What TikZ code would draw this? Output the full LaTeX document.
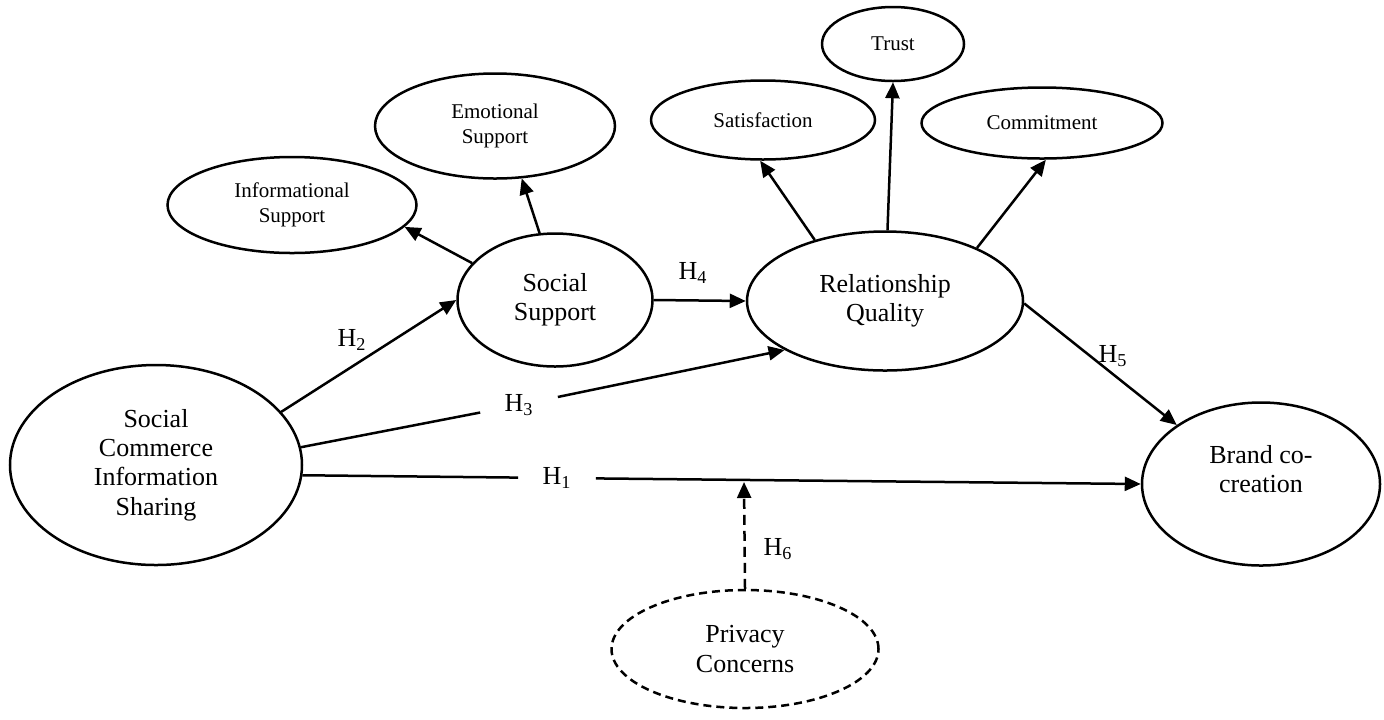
\documentclass[tikz,border=0pt]{standalone}
\usepackage{fontspec}
\setmainfont{Liberation Serif}
\usepackage{tikz}
\usetikzlibrary{shapes.geometric, arrows.meta}

\begin{document}
\begin{tikzpicture}[
    x=0.5pt, y=-0.5pt,
    construct/.style={draw, ellipse, line width=1.25pt, inner sep=0pt, align=center, font=\fontsize{13}{14.6}\selectfont},
    dimension/.style={draw, ellipse, line width=1.25pt, inner sep=0pt, align=center, font=\fontsize{10.5}{12.5}\selectfont},
    hyp/.style={inner sep=1pt, font=\fontsize{13}{15}\selectfont},
    gaphyp/.style={hyp, inner xsep=12pt},
    link/.style={line width=1.25pt, -{Triangle[length=8pt, width=7pt]}},
    modlink/.style={link, dash pattern=on 5pt off 3pt},
]
    \useasboundingbox (0,0) rectangle (1384,719);

    % Constructs
    \node[construct, minimum width=146pt, minimum height=100pt] (scis) at (156,465) {Social\\Commerce\\Information\\Sharing};
    \node[construct, minimum width=97.5pt, minimum height=66.5pt] (ss) at (555,300) {Social\\Support};
    \node[construct, minimum width=138pt, minimum height=69.5pt] (rq) at (885,301) {Relationship\\Quality};
    \node[construct, minimum width=119pt, minimum height=81.5pt,
          label={[yshift=7.5pt, align=center, font=\fontsize{13}{14.6}\selectfont]center:{Brand co-\\creation}}] (brand) at (1261,484) {};
    \node[construct, dash pattern=on 4pt off 2.5pt, minimum width=133.5pt, minimum height=59pt] (pc) at (745,649) {Privacy\\Concerns};

    % Dimensions
    \node[dimension, minimum width=124.5pt, minimum height=48pt] (info) at (292,205) {Informational\\Support};
    \node[dimension, minimum width=120pt, minimum height=52.5pt] (emo) at (495,126) {Emotional\\Support};
    \node[dimension, minimum width=112pt, minimum height=39.5pt] (sat) at (763,120) {Satisfaction};
    \node[dimension, minimum width=71pt, minimum height=37pt] (trust) at (893,44) {Trust};
    \node[dimension, minimum width=120.5pt, minimum height=35.5pt] (commit) at (1042,123) {Commitment};

    % Hypothesis labels
    \node[gaphyp] (h1) at (557,478) {H\textsubscript{1}};
    \node[hyp] (h2) at (352,340) {H\textsubscript{2}};
    \node[gaphyp] (h3) at (519,405) {H\textsubscript{3}};
    \node[hyp] (h4) at (693,273) {H\textsubscript{4}};
    \node[hyp] (h5) at (1113,356) {H\textsubscript{5}};
    \node[hyp] (h6) at (778,549) {H\textsubscript{6}};
    \coordinate (mod) at (744,482);

    % Structural paths
    \draw[link] (scis.-4) -- (h1) -- (brand.west);
    \draw[link] (scis.23) -- (ss.west);
    \draw[link] (scis.7) -- (h3) -- (rq.206);
    \draw[link] (ss.east) -- (rq.west);
    \draw[link] (rq.-1) -- (brand.145);
    \draw[modlink] (pc.north) -- (mod);

    % Dimension paths
    \draw[link] (ss.156) -- (info.-11);
    \draw[link] (ss.103) -- (emo.-63);
    \draw[link] (rq.139) -- (sat.-94);
    \draw[link] (rq.88) -- (trust.south);
    \draw[link] (rq.30) -- (commit.-84);

\end{tikzpicture}
\end{document}
